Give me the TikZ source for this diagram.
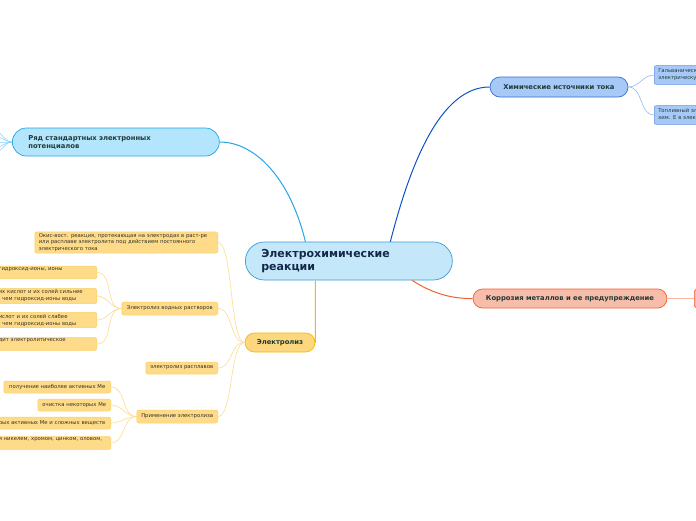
\documentclass[tikz,border=0pt]{standalone}
\usepackage{fontspec}
\setmainfont{DejaVu Sans}
\usetikzlibrary{positioning}

\definecolor{wurzelrand}{HTML}{3C9AD6}
\definecolor{wurzelfuell}{HTML}{C4E8FA}
\definecolor{wurzeltext}{HTML}{15284B}
\definecolor{ryadrand}{HTML}{22A6E6}
\definecolor{ryadfuell}{HTML}{B3E5FC}
\definecolor{ryadast}{HTML}{84D2F5}
\definecolor{quellrand}{HTML}{2F6FD6}
\definecolor{quellfuell}{HTML}{A6C9F8}
\definecolor{quelllinie}{HTML}{0C52C6}
\definecolor{quellast}{HTML}{93B8F0}
\definecolor{korrrand}{HTML}{F0622E}
\definecolor{korrfuell}{HTML}{F8BDAA}
\definecolor{korrast}{HTML}{F9B6A2}
\definecolor{elrand}{HTML}{F7B900}
\definecolor{elfuell}{HTML}{FDD77E}
\definecolor{kindfuell}{HTML}{FEDB88}
\definecolor{kindrand}{HTML}{FCD06A}
\definecolor{astgelb}{HTML}{FDDC8E}
\definecolor{knotentext}{HTML}{1E3B36}
\definecolor{kleintext}{HTML}{33302A}

\tikzset{
  haupt/.style={draw, line width=0.7pt, font=\fontsize{6.8}{8}\selectfont\bfseries,
    text=knotentext, inner sep=0pt},
  kind/.style={draw=kindrand, fill=kindfuell, line width=0.5pt, rounded corners=2pt,
    font=\fontsize{5.3}{7}\selectfont, text=kleintext, inner xsep=4pt, inner ysep=1.5pt},
  kindlinks/.style={kind, anchor=east, align=left, inner xsep=3pt},
  quellkind/.style={draw=quellrand!75, fill=quellfuell, line width=0.5pt, rounded corners=2pt,
    font=\fontsize{5.3}{7}\selectfont, text=knotentext, align=left, text width=80pt,
    inner xsep=4pt, minimum height=18pt, anchor=west},
  gelbast/.style={draw=astgelb, line width=0.6pt},
}

\begin{document}
\begin{tikzpicture}[x=1pt,y=-1pt]
  \useasboundingbox (0,0) rectangle (696,520);
  \clip (0,0) rectangle (696,520);

  % Zentralknoten
  \node[draw=wurzelrand, fill=wurzelfuell, line width=0.7pt, rounded corners=19pt,
    minimum height=38pt, text width=175pt, inner xsep=16pt, align=left,
    font=\fontsize{11}{12.5}\selectfont\bfseries, text=wurzeltext, anchor=west]
    (zentrum) at (245,261) {Электрохимические\\реакции};

  % Hauptäste
  \node[haupt, draw=ryadrand, fill=ryadfuell, rounded corners=14pt, minimum height=28pt,
    text width=175pt, inner xsep=16pt, align=left, anchor=west]
    (ryad) at (12,142) {Ряд стандартных электронных\\потенциалов};
  \node[haupt, draw=quellrand, fill=quellfuell, rounded corners=10pt,
    minimum width=138pt, minimum height=20pt] (himist) at (559,87) {Химические источники тока};
  \node[haupt, draw=korrrand, fill=korrfuell, rounded corners=9.5pt,
    minimum width=194pt, minimum height=19pt] (korr) at (570,298.5) {Коррозия металлов и ее предупреждение};
  \node[haupt, draw=elrand, fill=elfuell, rounded corners=9.5pt,
    minimum width=70pt, minimum height=19pt] (elektroliz) at (280,342.5) {Электролиз};

  \draw[ryadrand, line width=1pt] (zentrum.156) .. controls (290,178) and (255,142) .. (ryad.east);
  \draw[quelllinie, line width=1pt] (zentrum.25) .. controls (410,165) and (440,87) .. (himist.west);
  \draw[korrrand, line width=1pt] (zentrum.-17) .. controls (430,292) and (450,299) .. (korr.west);
  \draw[elrand, line width=1pt] (zentrum.210) to[out=-90,in=90] (elektroliz.east);

  % Fächer links vom Ряд-Knoten
  \foreach \y [count=\i] in {131,136,142,148,153} {
    \coordinate (faecher\i) at (-6,\y);
    \draw[ryadast, line width=0.5pt] (ryad.west) to[out=180,in=0] (faecher\i);
  }

  % Stromquellen
  \node[quellkind] (galv) at (654,75) {Гальванический элемент\\электрическую};
  \node[quellkind] (topliv) at (654,115) {Топливный элемент\\хим. Е в электрическую};
  \foreach \k in {galv,topliv}
    \draw[quellast, line width=0.6pt] (himist.east) to[out=0,in=180] (\k.west);

  % Korrosion
  \node[draw=korrrand, fill=korrfuell, line width=0.7pt, rounded corners=3pt,
    minimum width=30pt, minimum height=19pt, anchor=west] (korrkind) at (694,298.5) {};
  \draw[korrast, line width=0.6pt] (korr.east) -- (korrkind.west);

  % Elektrolyse
  \node[kind, anchor=east, text width=175pt, align=left, font=\fontsize{5.3}{6.5}\selectfont]
    (opred) at (218,242.5) {Окис-вост. реакция, протекающая на электродах в раст-ре\\или расплаве электролита под действием постоянного\\электрического тока};
  \node[kind, anchor=east, minimum width=96pt, minimum height=13pt] (vodn) at (218,308.5) {Электролиз водных растворов};
  \node[kind, anchor=east, minimum width=72pt, minimum height=12pt] (rasp) at (218,368) {электролиз расплавов};
  \node[kind, anchor=east, minimum width=81pt, minimum height=13pt] (primen) at (218,416.5) {Применение электролиза};
  \foreach \k in {opred,vodn,rasp,primen}
    \draw[gelbast] (elektroliz.west) to[out=180,in=0,distance=15pt] (\k.east);

  % Wässrige Lösungen
  \node[kindlinks, text width=95pt] (v1) at (97,272.5) {гидроксид-ионы, ионы\\\mbox{}};
  \node[kindlinks, text width=95pt] (v2) at (97,296) {их кислот и их солей сильнее\\, чем гидроксид-ионы воды};
  \node[kindlinks, text width=95pt] (v3) at (97,320) {ислот и их солей слабее\\, чем гидроксид-ионы воды};
  \node[kindlinks, text width=95pt] (v4) at (97,344) {дит электролитическое\\\mbox{}};
  \foreach \k in {v1,v2,v3,v4}
    \draw[gelbast] (vodn.west) to[out=180,in=0] (\k.east);

  % Anwendung
  \node[kind, anchor=east, minimum width=107pt, minimum height=12pt] (p1) at (111,387) {получение наиболее активных Ме};
  \node[kind, anchor=east, minimum width=73pt, minimum height=12pt] (p2) at (111,405) {очистка некоторых Ме};
  \node[kindlinks, text width=109pt, minimum height=12pt] (p3) at (111,423) {рых активных Ме и сложных веществ};
  \node[kindlinks, text width=109pt] (p4) at (111,443) {я никелем, хромом, цинком, оловом,\\\mbox{}};
  \foreach \k in {p1,p2,p3,p4}
    \draw[gelbast] (primen.west) to[out=180,in=0] (\k.east);
\end{tikzpicture}
\end{document}
